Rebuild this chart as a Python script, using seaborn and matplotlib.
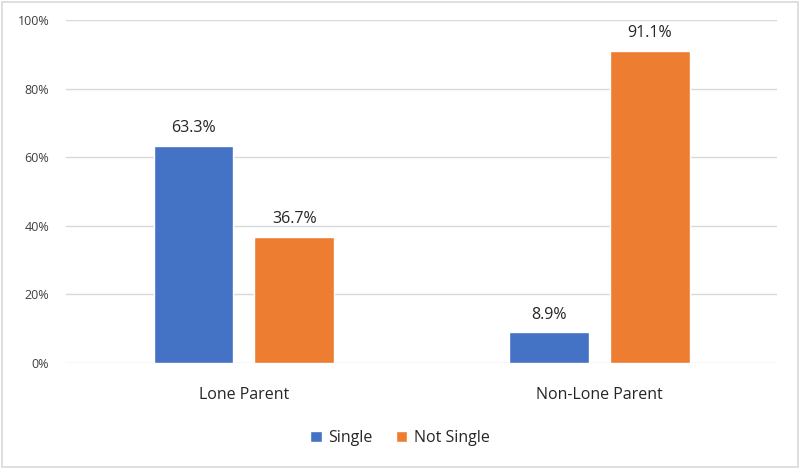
import matplotlib
matplotlib.use("Agg")
import matplotlib.pyplot as plt
import seaborn as sns
import pandas as pd
from matplotlib.patches import Rectangle
from matplotlib.ticker import PercentFormatter

# Data
groups = ["Lone Parent", "Non-Lone Parent"]
statuses = ["Single", "Not Single"]
single = [63.3, 8.9]
not_single = [36.7, 91.1]
colors = ["#4472C4", "#ED7D31"]

df = pd.DataFrame({
    "group": groups * 2,
    "status": [statuses[0]] * 2 + [statuses[1]] * 2,
    "value": single + not_single,
})

sns.set_style("white")
plt.rcParams["font.family"] = ["Open Sans", "DejaVu Sans"]

fig = plt.figure(figsize=(8, 4.68), dpi=100)
ax = fig.add_axes([0.0825, 0.2244, 0.889, 0.7326])

sns.barplot(data=df, x="group", y="value", hue="status", hue_order=statuses,
            palette=colors, width=0.567, gap=0.21, saturation=1, ax=ax,
            errorbar=None)

for c in ax.containers:
    ax.bar_label(c, fmt="%.1f%%", padding=7, fontsize=11.5, color="#262626")

ax.set_ylim(0, 100)
ax.set_xlim(-0.5, 1.5)
ax.set_yticks(range(0, 101, 20))
ax.yaxis.set_major_formatter(PercentFormatter(decimals=0))
ax.grid(axis="y", color="#D9D9D9", linewidth=1)
ax.set_axisbelow(True)
for s in ax.spines.values():
    s.set_visible(False)
ax.tick_params(axis="y", length=0, labelsize=9, labelcolor="#404040", pad=12)
ax.tick_params(axis="x", length=0, labelsize=11.5, labelcolor="#262626", pad=17)
ax.set_xlabel("")
ax.set_ylabel("")

ax.legend(loc="upper center", bbox_to_anchor=(0.5, 1 - 416 / 468), bbox_transform=fig.transFigure,
          ncol=2, frameon=False, fontsize=11.5, handlelength=0.7, handleheight=0.7,
          handletextpad=0.4, columnspacing=1.5, labelcolor="#262626")

fig.patches.append(Rectangle((0.002, 0.003), 0.995, 0.993, transform=fig.transFigure,
                             fill=False, edgecolor="#D9D9D9", linewidth=1.2))

fig.savefig("out.png", dpi=100)
